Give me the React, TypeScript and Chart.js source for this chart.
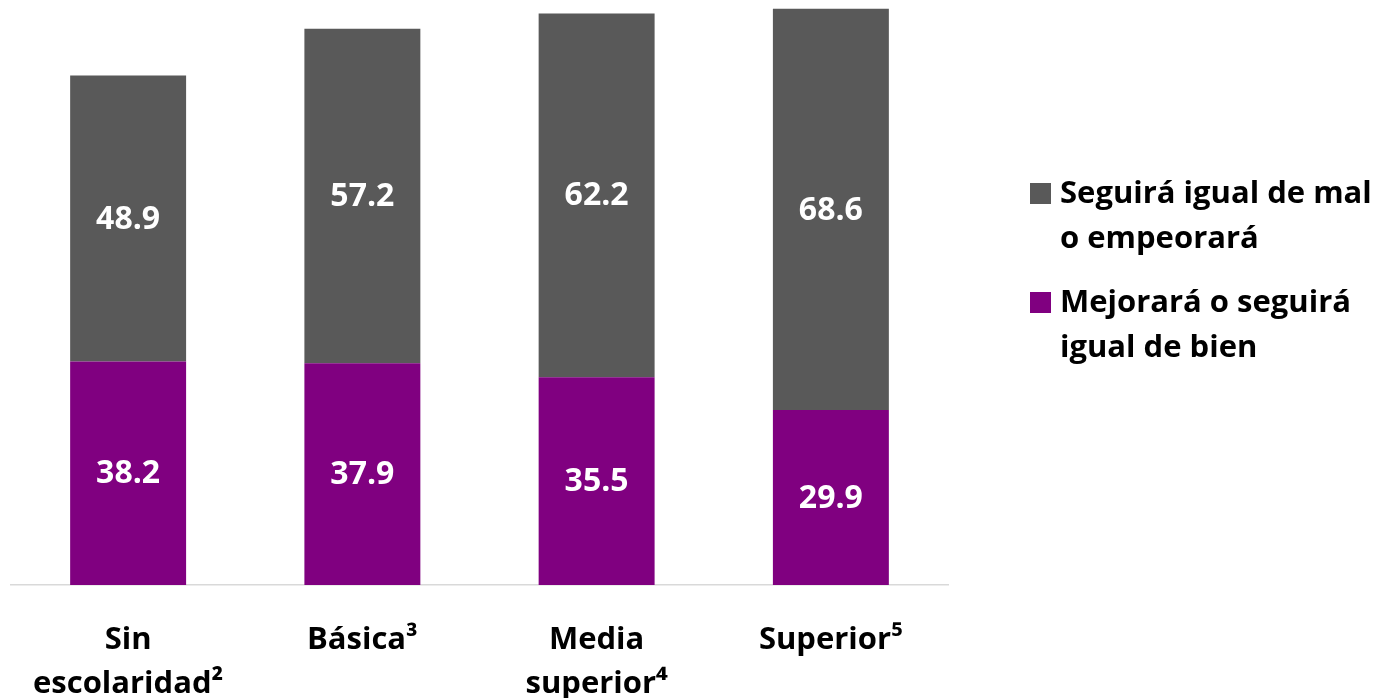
import React, { useEffect, useRef } from "react";
import { Chart, registerables } from "chart.js";

Chart.register(...registerables);

const categories: string[][] = [
  ["Sin", "escolaridad²"],
  ["Básica³"],
  ["Media", "superior⁴"],
  ["Superior⁵"],
];
const seriesNames = ["Mejorará o seguirá igual de bien", "Seguirá igual de mal o empeorará"];
const legendLines: string[][] = [
  ["Mejorará o seguirá", "igual de bien"],
  ["Seguirá igual de mal", "o empeorará"],
];
const mejorara = [38.2, 37.9, 35.5, 29.9];
const seguiraMal = [48.9, 57.2, 62.2, 68.6];

const PURPLE = "#800080";
const GREY = "#595959";
const FONT = "'Open Sans', Lato, sans-serif";
const FSIZE = 31;
const VSIZE = 32;

const labelPlugin = {
  id: "segLabels",
  afterDatasetsDraw(chart: any) {
    const ctx = chart.ctx;
    ctx.save();
    ctx.fillStyle = "#ffffff";
    ctx.font = `bold ${VSIZE}px ${FONT}`;
    ctx.textAlign = "center";
    ctx.textBaseline = "middle";
    chart.data.datasets.forEach((ds: any, di: number) => {
      const meta = chart.getDatasetMeta(di);
      meta.data.forEach((bar: any, i: number) => {
        const v = ds.data[i];
        const yc = (bar.y + bar.base) / 2;
        ctx.fillText(v.toFixed(1), bar.x, yc + 1);
      });
    });
    ctx.restore();
  },
};

const legendPlugin = {
  id: "sideLegend",
  afterDraw(chart: any) {
    const ctx = chart.ctx;
    const area = chart.chartArea;
    const sqX = area.right + 82;
    const txtX = sqX + 30;
    const order = [1, 0];
    const firstBaselines = [203, 312];
    const lh = 45;
    ctx.save();
    ctx.font = `bold ${FSIZE}px ${FONT}`;
    ctx.textAlign = "left";
    ctx.textBaseline = "alphabetic";
    order.forEach((di, k) => {
      const ds = chart.data.datasets[di];
      const b = firstBaselines[k];
      ctx.fillStyle = ds.backgroundColor;
      ctx.fillRect(sqX, b - 20, 21, 21);
      ctx.fillStyle = "#000000";
      legendLines[di].forEach((line, li) => {
        ctx.fillText(line, txtX, b + li * lh);
      });
    });
    ctx.restore();
  },
};

export default function App() {
  const ref = useRef<HTMLCanvasElement | null>(null);
  useEffect(() => {
    if (!ref.current) return;
    const chart = new Chart(ref.current, {
      type: "bar",
      data: {
        labels: categories as any,
        datasets: [
          { label: seriesNames[0], data: mejorara, backgroundColor: PURPLE, borderWidth: 0 },
          { label: seriesNames[1], data: seguiraMal, backgroundColor: GREY, borderWidth: 0 },
        ],
      },
      options: {
        responsive: false,
        animation: false,
        layout: { padding: { left: 11, right: 450, top: 0, bottom: 0 } },
        datasets: { bar: { barPercentage: 0.495, categoryPercentage: 1 } },
        plugins: { legend: { display: false }, tooltip: { enabled: false } },
        scales: {
          x: {
            stacked: true,
            grid: { display: false },
            border: { display: true, color: "#d9d9d9", width: 1.5 },
            ticks: {
              color: "#000000",
              padding: 25,
              maxRotation: 0,
              autoSkip: false,
              font: { family: FONT, size: FSIZE, weight: "bold", lineHeight: 44 / FSIZE },
            },
            afterFit(scale: any) {
              scale.height = 113;
            },
          },
          y: {
            stacked: true,
            display: false,
            min: 0,
            max: 100,
          },
        },
      },
      plugins: [labelPlugin, legendPlugin],
    });
    return () => chart.destroy();
  }, []);
  return (
    <div style={{ position: "fixed", left: 0, top: 0, width: 1398, height: 698, background: "#fff" }}>
      <canvas ref={ref} width={1398} height={698} style={{ width: 1398, height: 698 }} />
    </div>
  );
}
